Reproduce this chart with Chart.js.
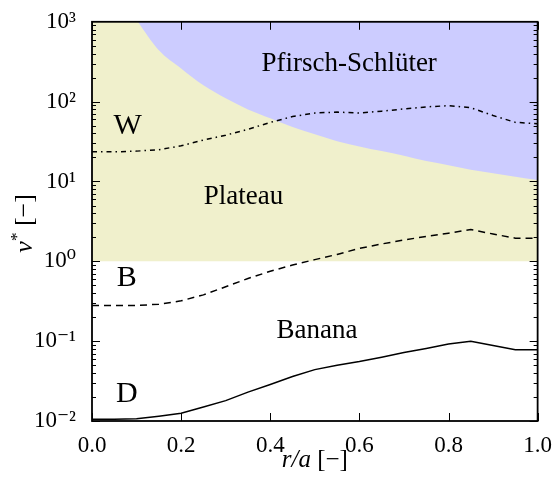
<!DOCTYPE html>
<html>
<head>
<meta charset="utf-8">
<script src="https://cdn.jsdelivr.net/npm/chart.js@4.4.1/dist/chart.umd.min.js"></script>
<style>
  html, body { margin: 0; padding: 0; background: #fff; }
  #wrap { width: 555px; height: 486px; }
</style>
</head>
<body>
<div id="wrap"><canvas id="nuChart"></canvas></div>
<script>
// collisionality profiles vs r/a
const radius = [0, 0.05, 0.1, 0.15, 0.2, 0.25, 0.3, 0.35, 0.4, 0.45, 0.5, 0.55, 0.6, 0.65, 0.7, 0.75, 0.8, 0.85, 0.9, 0.95, 1.0];
const nuW = [23.5, 23.5, 24, 25, 28, 33, 38, 45, 55, 65, 72, 74, 72, 76, 81, 86, 89, 84, 67, 55, 53];
const nuB = [0.28, 0.28, 0.28, 0.29, 0.32, 0.38, 0.48, 0.61, 0.75, 0.9, 1.05, 1.22, 1.45, 1.65, 1.85, 2.05, 2.25, 2.5, 2.2, 1.95, 1.95];
const nuD = [0.0105, 0.0105, 0.0107, 0.0115, 0.0125, 0.015, 0.018, 0.023, 0.0287, 0.036, 0.044, 0.05, 0.0557, 0.063, 0.072, 0.081, 0.092, 0.1, 0.088, 0.078, 0.078];

// plateau / Pfirsch-Schlüter boundary
const psRadius = [0.1, 0.15, 0.2, 0.25, 0.3, 0.35, 0.4, 0.45, 0.5, 0.55, 0.6, 0.65, 0.7, 0.75, 0.8, 0.85, 0.9, 0.95, 1.0];
const psBoundary = [1050, 440, 260, 160, 110, 80, 62, 48, 39, 32, 27.5, 24, 21, 18, 16, 14, 12.7, 11.5, 10.4];
const plateauRadius = [0, 1];
const plateauFloor = [1, 1];

const xTicks = [0, 0.2, 0.4, 0.6, 0.8, 1.0];
const xTickLabels = ['0.0', '0.2', '0.4', '0.6', '0.8', '1.0'];
const yTicks = [1e-2, 1e-1, 1, 10, 100, 1000];
const yTickLabels = ['10⁻²', '10⁻¹', '10⁰', '10¹', '10²', '10³'];

const regionNames = ['Pfirsch-Schlüter', 'Plateau', 'Banana', 'W', 'B', 'D'];
const regionX = [0.577, 0.34, 0.505, 0.08, 0.078, 0.078];
const regionY = [300, 6.5, 0.136, 50, 0.61, 0.0216];

const serif = "'Liberation Serif', 'DejaVu Serif', serif";
const pts = (xs, ys) => xs.map((x, i) => ({ x: x, y: ys[i] }));

// inward ticks, frame, region names and axis titles
const decorations = {
  id: 'decorations',
  afterDatasetsDraw(chart) {
    const { ctx, chartArea: a, scales } = chart;
    const xs = scales.x, ys = scales.y;
    ctx.save();
    ctx.strokeStyle = '#000';
    ctx.lineWidth = 1;
    ctx.beginPath();
    xTicks.forEach(v => {
      const px = Math.round(xs.getPixelForValue(v)) + 0.5;
      ctx.moveTo(px, a.bottom); ctx.lineTo(px, a.bottom - 8);
      ctx.moveTo(px, a.top); ctx.lineTo(px, a.top + 8);
    });
    for (let e = -2; e < 3; e++) {
      for (let m = 1; m < 10; m++) {
        const py = Math.round(ys.getPixelForValue(m * Math.pow(10, e))) + 0.5;
        const len = m === 1 ? 8 : 4;
        ctx.moveTo(a.left, py); ctx.lineTo(a.left + len, py);
        ctx.moveTo(a.right, py); ctx.lineTo(a.right - len, py);
      }
    }
    ctx.stroke();
    ctx.lineWidth = 1.8;
    ctx.strokeRect(a.left, a.top, a.right - a.left, a.bottom - a.top);

    ctx.fillStyle = '#000';
    ctx.textAlign = 'center';
    ctx.textBaseline = 'middle';
    regionNames.forEach((name, i) => {
      ctx.font = (name.length === 1 ? '30px ' : '27px ') + serif;
      ctx.fillText(name, xs.getPixelForValue(regionX[i]), ys.getPixelForValue(regionY[i]));
    });

    // x title
    ctx.textBaseline = 'alphabetic';
    ctx.textAlign = 'left';
    ctx.font = 'italic 25px ' + serif;
    const xa = 'r/a', xb = ' [−]';
    const wa = ctx.measureText(xa).width;
    ctx.font = '25px ' + serif;
    const wb = ctx.measureText(xb).width;
    let sx = (a.left + a.right) / 2 - (wa + wb) / 2;
    ctx.font = 'italic 25px ' + serif;
    ctx.fillText(xa, sx, 467);
    ctx.font = '25px ' + serif;
    ctx.fillText(xb, sx + wa, 467);

    // y title
    ctx.translate(32, (a.top + a.bottom) / 2 + 2);
    ctx.rotate(-Math.PI / 2);
    ctx.font = 'italic 26px ' + serif;
    const wn = ctx.measureText('ν').width;
    ctx.font = '17px ' + serif;
    const ws = ctx.measureText('*').width;
    ctx.font = '26px ' + serif;
    const wt = ctx.measureText(' [−]').width;
    sx = -(wn + ws + wt) / 2;
    ctx.font = 'italic 26px ' + serif;
    ctx.fillText('ν', sx, 0);
    ctx.font = '17px ' + serif;
    ctx.fillText('*', sx + wn, -10);
    ctx.font = '26px ' + serif;
    ctx.fillText(' [−]', sx + wn + ws, 0);
    ctx.restore();
  }
};

new Chart(document.getElementById('nuChart'), {
  type: 'line',
  data: {
    datasets: [
      { data: pts(plateauRadius, plateauFloor), order: 5, fill: 'end', backgroundColor: 'rgb(240,240,204)', borderWidth: 0, pointRadius: 0 },
      { data: pts(psRadius, psBoundary), order: 4, fill: 'end', backgroundColor: 'rgb(204,204,255)', borderWidth: 0, pointRadius: 0, cubicInterpolationMode: 'monotone' },
      { label: 'W', data: pts(radius, nuW), order: 1, borderColor: '#000', borderWidth: 1.5, borderDash: [5, 4, 1.5, 4], pointRadius: 0, fill: false },
      { label: 'B', data: pts(radius, nuB), order: 1, borderColor: '#000', borderWidth: 1.5, borderDash: [7, 5], pointRadius: 0, fill: false },
      { label: 'D', data: pts(radius, nuD), order: 1, borderColor: '#000', borderWidth: 1.5, pointRadius: 0, fill: false }
    ]
  },
  options: {
    responsive: true,
    maintainAspectRatio: false,
    animation: false,
    layout: { padding: { top: 17, right: 16, left: 0, bottom: 0 } },
    plugins: { legend: { display: false }, tooltip: { enabled: false } },
    scales: {
      x: {
        type: 'linear', min: 0, max: 1,
        afterBuildTicks: s => { s.ticks = xTicks.map(v => ({ value: v })); },
        afterFit: s => { s.height = 65; },
        ticks: { callback: (v, i) => xTickLabels[i], color: '#000', font: { family: serif, size: 23 }, padding: 3, maxRotation: 0 },
        grid: { display: false },
        border: { display: false }
      },
      y: {
        type: 'logarithmic', min: 0.01, max: 1000,
        afterBuildTicks: s => { s.ticks = yTicks.map(v => ({ value: v })); },
        afterFit: s => { s.width = 92; },
        ticks: { callback: (v, i) => yTickLabels[i], color: '#000', font: { family: serif, size: 23 }, padding: 8 },
        grid: { display: false },
        border: { display: false }
      }
    }
  },
  plugins: [decorations]
});
</script>
</body>
</html>
